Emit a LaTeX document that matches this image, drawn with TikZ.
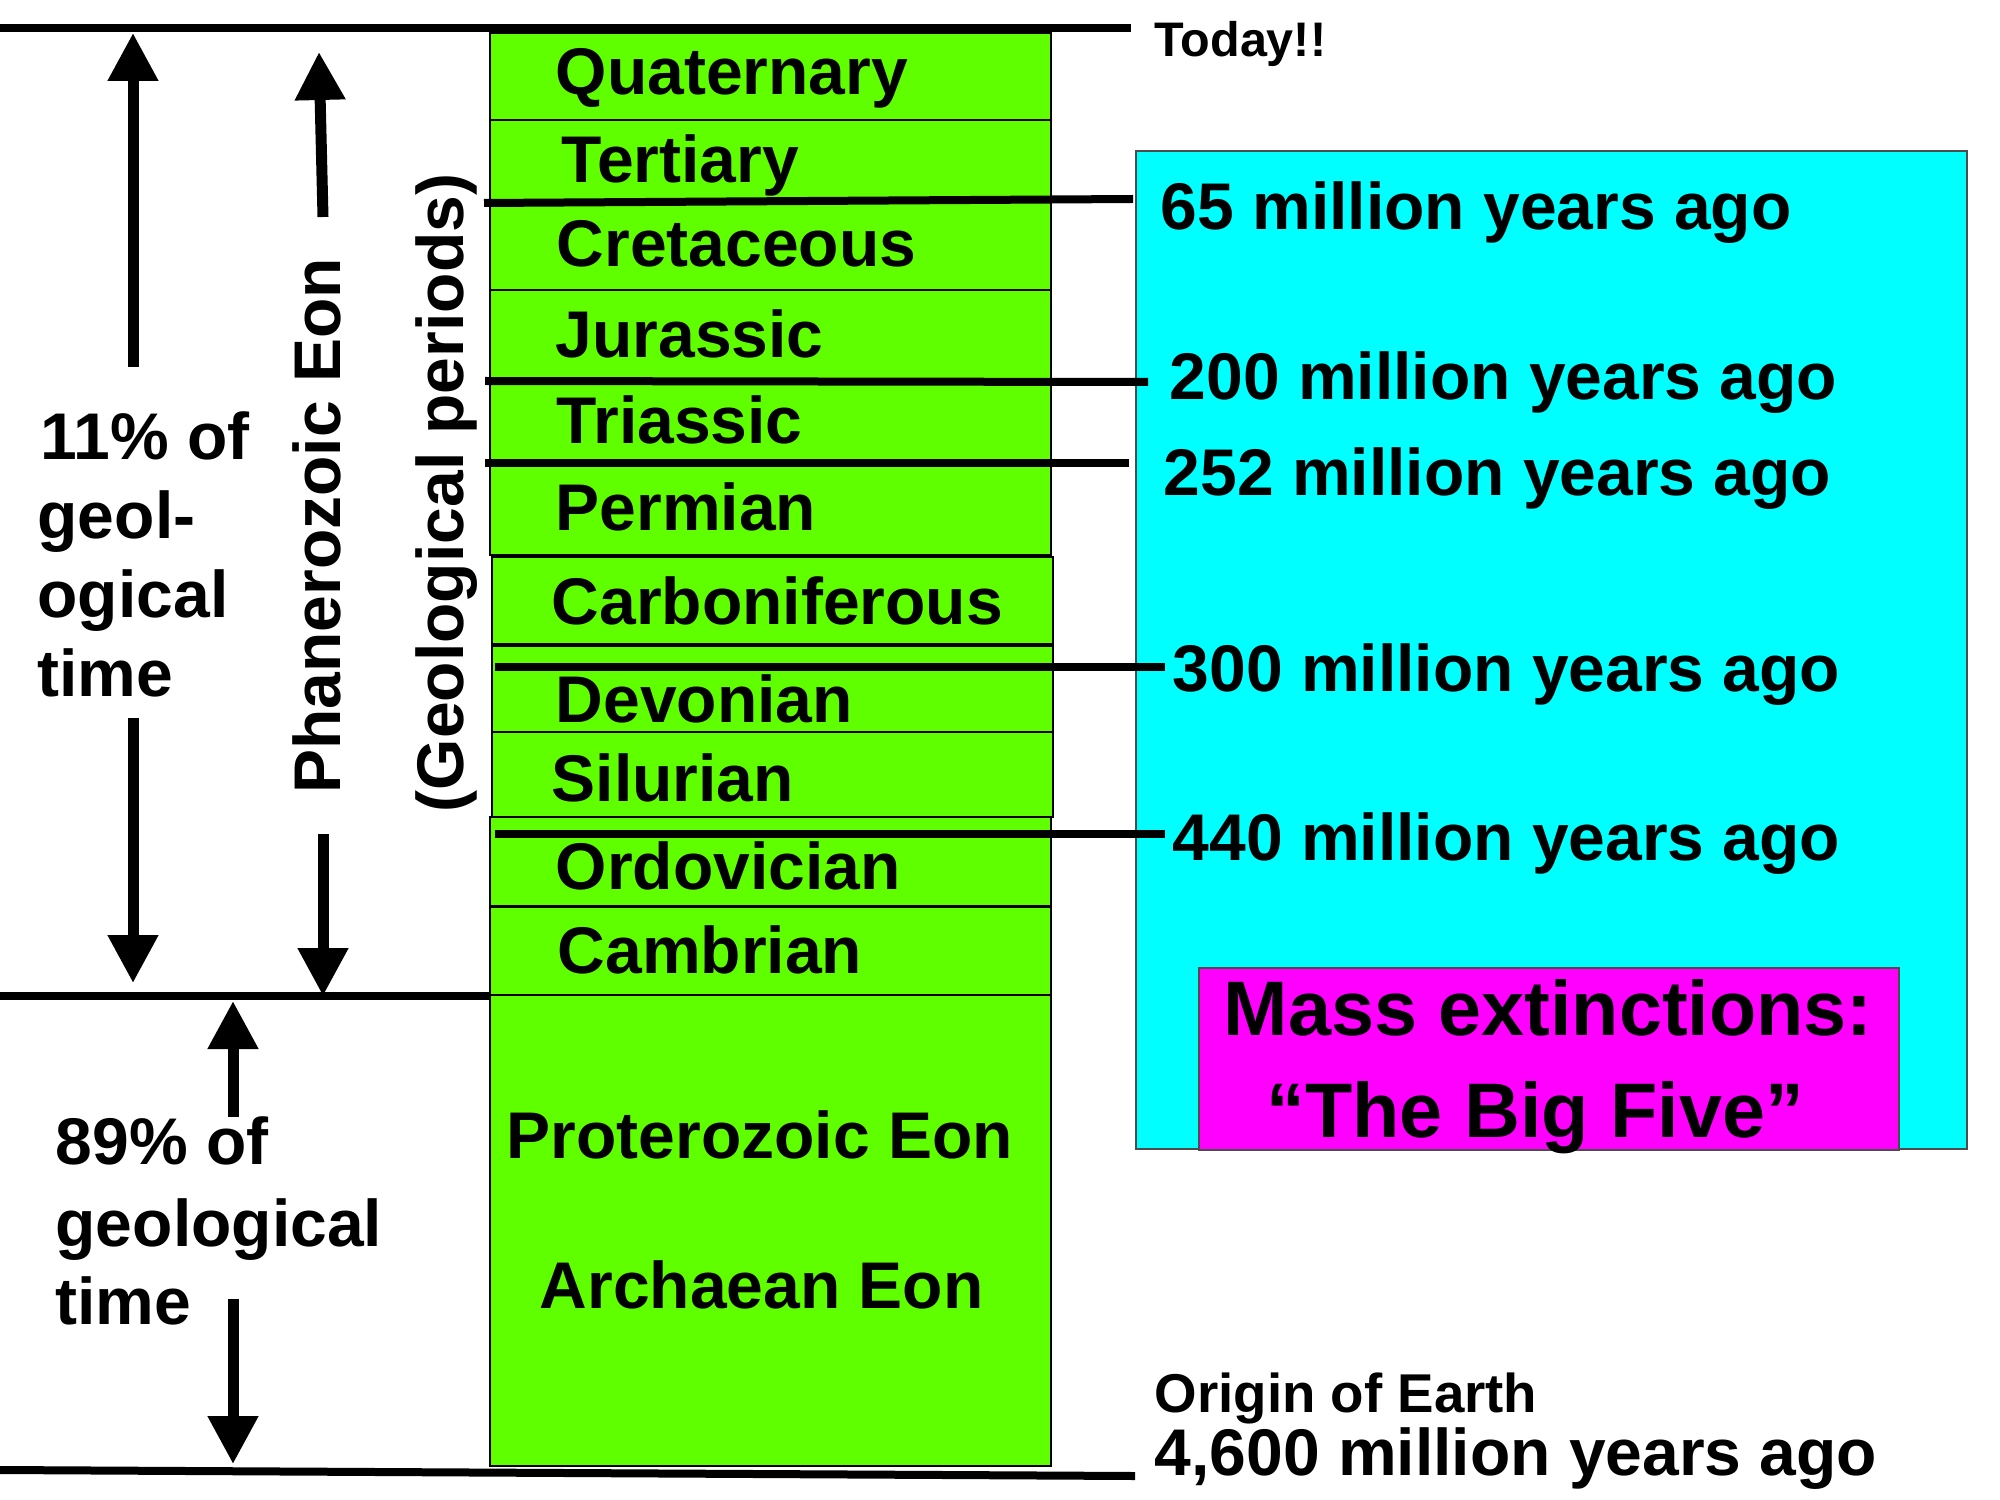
\documentclass[tikz,border=0pt]{standalone}
\usepackage{fontspec}
\setmainfont{Liberation Sans}
\usetikzlibrary{arrows.meta}
\definecolor{geogreen}{RGB}{96,255,0}
\definecolor{boxcyan}{RGB}{0,255,255}
\definecolor{boxmag}{RGB}{255,0,255}
\newcommand\pxsize[1]{\fontsize{#1}{#1}\selectfont}
\begin{document}
\begin{tikzpicture}[x=0.3pt,y=-0.3pt,
  period/.style={fill=geogreen,draw=black,line width=0.5pt},
  thinsep/.style={draw=black,line width=0.9pt},
  lbl/.style={anchor=base west,inner sep=0pt,font=\bfseries\pxsize{19.8pt}},
  smalllbl/.style={anchor=base west,inner sep=0pt,font=\bfseries\pxsize{14.55pt}},
  midlbl/.style={anchor=base west,inner sep=0pt,font=\bfseries\pxsize{16.4pt}},
  biglbl/.style={anchor=base west,inner sep=0pt,font=\bfseries\pxsize{23.2pt}},
  vlbl/.style={rotate=90,inner sep=0pt,font=\bfseries\pxsize{19.8pt}},
  marker/.style={line width=2.4pt},
  timearrow/.style={line width=3.3pt,-{Triangle[width=14.4pt,length=14.4pt]}},
  panel/.style={draw=black!70,line width=0.5pt}
]
\useasboundingbox[fill=white] (0,0) rectangle (2000,1500);

% geological column
\path[period] (490,33) rectangle (1051,120);
\path[period] (490,120) rectangle (1051,202);
\path[period] (490,202) rectangle (1051,290);
\path[period] (490,290) rectangle (1051,382);
\path[period] (490,382) rectangle (1051,463);
\path[period] (490,463) rectangle (1051,555);
\path[period] (492,557) rectangle (1053,644);
\path[period] (492,646) rectangle (1053,732);
\path[period] (492,732) rectangle (1053,817);
\path[period] (490,817) rectangle (1051,906);
\path[period] (490,906) rectangle (1051,995);
\path[period] (490,995) rectangle (1051,1466);
\draw[thinsep] (490,906) -- (1051,906);

% right panels
\path[panel,fill=boxcyan] (1136,151) rectangle (1967,1149);
\path[panel,fill=boxmag] (1199,968) rectangle (1899,1150);

% time markers
\coordinate (todayL) at (0,28);    \coordinate (todayR) at (1131,28);
\coordinate (m65L) at (484,203);   \coordinate (m65R) at (1133,199);
\coordinate (m200L) at (485,381);  \coordinate (m200R) at (1148,382);
\coordinate (m252L) at (485,463);  \coordinate (m252R) at (1129,463);
\coordinate (m300L) at (495,667);  \coordinate (m300R) at (1165,667);
\coordinate (m440L) at (495,834);  \coordinate (m440R) at (1165,834);
\coordinate (phanL) at (0,996);    \coordinate (phanR) at (490,996);
\coordinate (originL) at (0,1470); \coordinate (originR) at (1135,1476);
\draw[marker] (todayL) -- (todayR);
\draw[marker] (m65L) -- (m65R);
\draw[marker] (m200L) -- (m200R);
\draw[marker] (m252L) -- (m252R);
\draw[marker] (m300L) -- (m300R);
\draw[marker] (m440L) -- (m440R);
\draw[marker] (phanL) -- (phanR);
\draw[marker] (originL) -- (originR);

% period labels
\node[lbl] (quat) at (555,95) {Quaternary};
\node[lbl] (tert) at (561,183) {Tertiary};
\node[lbl] (cret) at (556,267) {Cretaceous};
\node[lbl] (jura) at (555,358) {Jurassic};
\node[lbl] (tria) at (556,443) {Triassic};
\node[lbl] (perm) at (555,530) {Permian};
\node[lbl] (carb) at (551,624) {Carboniferous};
\node[lbl] (devo) at (555,722) {Devonian};
\node[lbl] (silu) at (551,801) {Silurian};
\node[lbl] (ordo) at (555,889) {Ordovician};
\node[lbl] (camb) at (557,973) {Cambrian};
\node[lbl] (prot) at (506,1158) {Proterozoic Eon};
\node[lbl] (arch) at (539,1308) {Archaean Eon};

% vertical labels
\node[vlbl] (phan) at (317,526) {Phanerozoic Eon};
\node[vlbl] (geoper) at (447,493) {(Geological periods)};

% right labels
\node[smalllbl] (today) at (1154,57) {Today!!};
\node[lbl] (t65) at (1160,230) {65 million years ago};
\node[lbl] (t200) at (1169,400) {200 million years ago};
\node[lbl] (t252) at (1163,495) {252 million years ago};
\node[lbl] (t300) at (1172,691) {300 million years ago};
\node[lbl] (t440) at (1172,860) {440 million years ago};
\node[biglbl] (mass) at (1223,1035) {Mass extinctions:};
\node[biglbl] (bigfive) at (1266,1137) {“The Big Five”};
\node[midlbl] (origin) at (1154,1412) {Origin of Earth};
\node[lbl] (t4600) at (1154,1475) {4,600 million years ago};

% left labels
\node[lbl] (pa) at (40,459) {11\% of};
\node[lbl] (pb) at (37,538) {geol-};
\node[lbl] (pc) at (37,617) {ogical};
\node[lbl] (pd) at (37,696) {time};
\node[lbl] (qa) at (55,1164) {89\% of};
\node[lbl] (qb) at (55,1246) {geological};
\node[lbl] (qc) at (55,1324) {time};

% arrows
\coordinate (a1s) at (133,367);  \coordinate (a1t) at (133,33);
\coordinate (a2s) at (133,718);  \coordinate (a2t) at (133,983);
\coordinate (b1s) at (323,217);  \coordinate (b1t) at (319,52);
\coordinate (b2s) at (323,834);  \coordinate (b2t) at (323,996);
\coordinate (c1s) at (233,1117); \coordinate (c1t) at (233,1001);
\coordinate (c2s) at (233,1299); \coordinate (c2t) at (233,1464);
\draw[timearrow] (a1s) -- (a1t);
\draw[timearrow] (a2s) -- (a2t);
\draw[timearrow] (b1s) -- (b1t);
\draw[timearrow] (b2s) -- (b2t);
\draw[timearrow] (c1s) -- (c1t);
\draw[timearrow] (c2s) -- (c2t);
\end{tikzpicture}
\end{document}
